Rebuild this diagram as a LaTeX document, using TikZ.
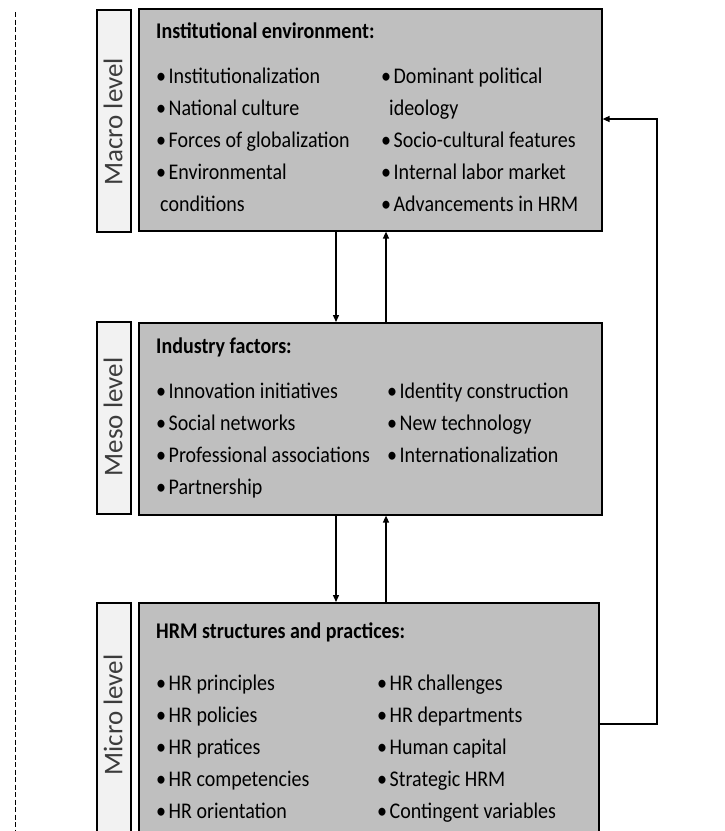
\documentclass[tikz,border=0pt]{standalone}
\usepackage{fontspec}
\setmainfont{Carlito}
\usetikzlibrary{arrows.meta}
\definecolor{boxgray}{RGB}{191,191,191}
\definecolor{labelfill}{RGB}{242,242,242}
\definecolor{labeltext}{RGB}{60,60,60}
\newcommand{\vst}[1]{\scalebox{1}[1.12]{#1}}
\newcommand{\bitem}[1]{\vst{\textbullet\hspace{2.5pt}#1}}
\begin{document}
\begin{tikzpicture}[x=1pt,y=-1pt,
  panel/.style={draw=black, line width=1.6pt, fill=boxgray, inner sep=0pt, anchor=north west},
  lvl/.style={draw=black, line width=1.6pt, fill=labelfill, inner sep=0pt, anchor=north west},
  lvltext/.style={rotate=90, font=\fontsize{27}{30}\selectfont, text=labeltext, inner sep=0pt},
  ttl/.style={anchor=base west, inner sep=0pt, font=\fontsize{20}{24}\selectfont\bfseries},
  itm/.style={anchor=base west, inner sep=0pt, font=\fontsize{20}{24}\selectfont},
  conn/.style={line width=1.3pt, -{Triangle[length=7pt,width=6pt]}}
]
\useasboundingbox (0,0) rectangle (725,831);
\clip (0,0) rectangle (725,831);
\fill[white] (0,0) rectangle (725,831);

% dashed separator
\coordinate (dtop) at (15,12);
\coordinate (dbot) at (15,831);
\draw[line width=0.8pt, dash pattern=on 5pt off 2.5pt] (dtop) -- (dbot);

% level labels
\node[lvl, minimum width=34pt, minimum height=222pt] (lmacro) at (96,9) {};
\node[lvl, minimum width=34pt, minimum height=192pt] (lmeso) at (96,321) {};
\node[lvl, minimum width=34pt, minimum height=260pt] (lmicro) at (96,602) {};
\node[lvltext] (tmacro) at (113,122) {Macro level};
\node[lvltext] (tmeso) at (113,417) {Meso level};
\node[lvltext] (tmicro) at (113,715) {Micro level};

% panels
\node[panel, minimum width=463pt, minimum height=222pt] (macro) at (138,8) {};
\node[panel, minimum width=463pt, minimum height=192pt] (meso) at (138,322) {};
\node[panel, minimum width=460pt, minimum height=260pt] (micro) at (138,602) {};

% macro text
\node[ttl] (macroT) at (156,38) {\vst{Institutional environment:}};
\foreach \t [count=\i] in {Institutionalization, National culture, Forces of globalization, Environmental}
  \node[itm] (mab\i) at (156,51+32*\i) {\bitem{\t}};
\node[itm] (mac5) at (160,211) {\vst{conditions}};
\foreach \t/\r in {Dominant political/1, Socio-cultural features/3, Internal labor market/4, Advancements in HRM/5}
  \node[itm] (mar\r) at (381,51+32*\r) {\bitem{\t}};
\node[itm] (mar2) at (389,115) {\vst{ideology}};

% meso text
\node[ttl] (mesoT) at (156,353) {\vst{Industry factors:}};
\foreach \t [count=\i] in {Innovation initiatives, Social networks, Professional associations, Partnership}
  \node[itm] (meb\i) at (156,366+32*\i) {\bitem{\t}};
\foreach \t [count=\i] in {Identity construction, New technology, Internationalization}
  \node[itm] (mer\i) at (387,366+32*\i) {\bitem{\t}};

% micro text
\node[ttl] (microT) at (156,638) {\vst{HRM structures and practices:}};
\foreach \t [count=\i] in {HR principles, HR policies, HR pratices, HR competencies, HR orientation}
  \node[itm] (mib\i) at (156,658+32*\i) {\bitem{\t}};
\foreach \t [count=\i] in {HR challenges, HR departments, Human capital, Strategic HRM, Contingent variables}
  \node[itm] (mir\i) at (377,658+32*\i) {\bitem{\t}};

% vertical connectors
\coordinate (xd) at (336,0);
\coordinate (xu) at (386,0);
\draw[conn] (macro.south -| xd) -- (meso.north -| xd);
\draw[conn] (meso.north -| xu) -- (macro.south -| xu);
\draw[conn] (meso.south -| xd) -- (micro.north -| xd);
\draw[conn] (micro.north -| xu) -- (meso.south -| xu);

% feedback loop
\coordinate (fb1) at (657,724);
\coordinate (fb2) at (657,119);
\draw[conn] (micro.east |- fb1) -- (fb1) -- (fb2) -- (macro.east |- fb2);
\end{tikzpicture}
\end{document}
